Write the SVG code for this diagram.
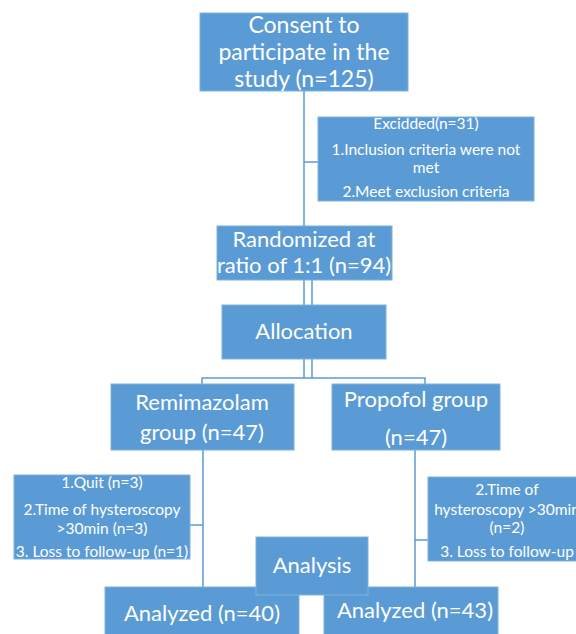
<svg xmlns="http://www.w3.org/2000/svg" width="576" height="634" viewBox="0 0 576 634">
<style>
.box{fill:#5b9bd5;stroke:#7fb2de;stroke-width:1}
.ln{stroke:#5b9bd5;stroke-width:1.5;fill:none}
text{font-family:Lato,"Open Sans",sans-serif;fill:#ffffff;text-anchor:middle}
.l{font-size:23px}
.m{font-size:22px}
.s{font-size:15.5px}
</style>
<rect width="576" height="634" fill="#ffffff"/>
<g id="connectors">
<path class="ln" d="M304,91 V226 M304,162 H318"/>
<path class="ln" d="M304,280 V305 M312,280 V305 M304,359 V378 M312,359 V378"/>
<path class="ln" d="M202,384 V378 H425 V384"/>
<path class="ln" d="M203,450 V588 M190,525 H203"/>
<path class="ln" d="M415,450 V588 M415,540 H428"/>
</g>
<g id="consent">
<rect class="box" x="200" y="13" width="208" height="78"/>
<text class="l" x="304" y="33">Consent to</text>
<text class="l" x="304" y="60">participate in the</text>
<text class="l" x="304" y="87">study (n=125)</text>
</g>
<g id="excluded">
<rect class="box" x="318" y="117" width="216" height="84"/>
<text class="s" x="426" y="129">Excidded(n=31)</text>
<text class="s" x="426" y="155">1.Inclusion criteria were not</text>
<text class="s" x="426" y="173">met</text>
<text class="s" x="426" y="197">2.Meet exclusion criteria</text>
</g>
<g id="randomized">
<rect class="box" x="217" y="226" width="175" height="54"/>
<text class="m" x="304" y="247">Randomized  at</text>
<text class="m" x="304" y="273">ratio of 1:1 (n=94)</text>
</g>
<g id="allocation">
<rect class="box" x="222" y="305" width="164" height="54"/>
<text class="m" x="304" y="339">Allocation</text>
</g>
<g id="remimazolam">
<rect class="box" x="111" y="384" width="183" height="66"/>
<text class="m" x="202" y="410">Remimazolam</text>
<text class="m" x="202" y="440">group (n=47)</text>
</g>
<g id="propofol">
<rect class="box" x="332" y="384" width="168" height="66"/>
<text class="m" x="416" y="407">Propofol  group</text>
<text class="m" x="416" y="445">(n=47)</text>
</g>
<g id="loss-left">
<rect class="box" x="14" y="475" width="176" height="84"/>
<text class="s" x="102" y="488">1.Quit (n=3)</text>
<text class="s" x="102" y="515">2.Time of hysteroscopy</text>
<text class="s" x="102" y="534">&gt;30min (n=3)</text>
<text class="s" x="102" y="557">3. Loss to follow-up  (n=1)</text>
</g>
<g id="loss-right">
<rect class="box" x="428" y="477" width="150" height="84"/>
<text class="s" x="507" y="495">2.Time of</text>
<text class="s" x="507" y="515">hysteroscopy &gt;30min</text>
<text class="s" x="507" y="533">(n=2)</text>
<text class="s" x="507" y="557">3. Loss to follow-up</text>
</g>
<g id="analyzed-left">
<rect class="box" x="105" y="587" width="194" height="50"/>
<text class="m" x="202" y="621">Analyzed (n=40)</text>
</g>
<g id="analyzed-right">
<rect class="box" x="324" y="587" width="174" height="50"/>
<text class="m" x="415" y="618">Analyzed (n=43)</text>
</g>
<g id="analysis">
<rect class="box" x="256" y="537" width="112" height="58"/>
<text class="m" x="312" y="573">Analysis</text>
</g>
</svg>
